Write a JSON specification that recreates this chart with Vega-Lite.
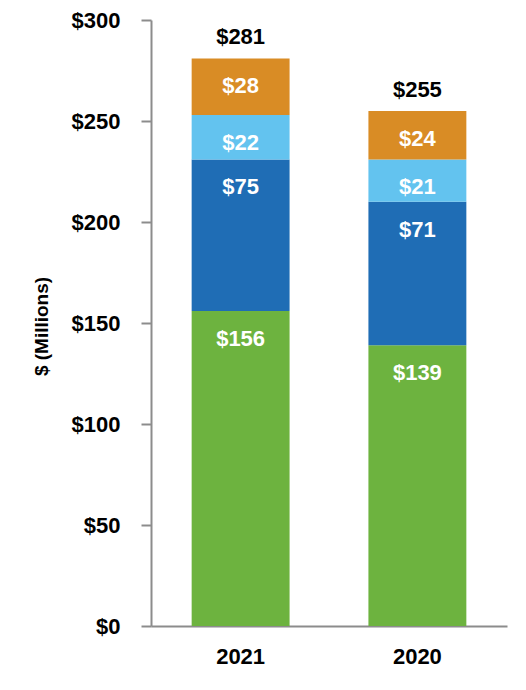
{
  "$schema": "https://vega.github.io/schema/vega-lite/v6.json",
  "width": 356,
  "height": 606,
  "autosize": "none",
  "padding": {"left": 151, "top": 20, "right": 19, "bottom": 64},
  "background": "white",
  "config": {
    "view": {"stroke": null},
    "font": "Liberation Sans, Arial, sans-serif"
  },
  "data": {
    "values": [
      {"year": "2021", "segment": "A", "order": 1, "value": 156},
      {"year": "2021", "segment": "B", "order": 2, "value": 75},
      {"year": "2021", "segment": "C", "order": 3, "value": 22},
      {"year": "2021", "segment": "D", "order": 4, "value": 28},
      {"year": "2020", "segment": "A", "order": 1, "value": 139},
      {"year": "2020", "segment": "B", "order": 2, "value": 71},
      {"year": "2020", "segment": "C", "order": 3, "value": 21},
      {"year": "2020", "segment": "D", "order": 4, "value": 24}
    ]
  },
  "encoding": {
    "x": {
      "field": "year",
      "type": "nominal",
      "sort": ["2021", "2020"],
      "scale": {"paddingInner": 0.446, "paddingOuter": 0.23},
      "axis": {
        "title": null,
        "labelAngle": 0,
        "labelFontSize": 22,
        "labelFontWeight": "bold",
        "labelColor": "black",
        "labelPadding": 20,
        "ticks": false,
        "domainColor": "#8c8c8c",
        "domainWidth": 2
      }
    }
  },
  "layer": [
    {
      "mark": {"type": "bar"},
      "encoding": {
        "y": {
          "field": "value",
          "type": "quantitative",
          "stack": "zero",
          "scale": {"domain": [0, 300], "nice": false},
          "axis": {
            "title": "$ (Millions)",
            "titleFontSize": 19,
            "titleFontWeight": "bold",
            "titleColor": "black",
            "titleX": -110,
            "titleY": 306,
            "titleAngle": -90,
            "titleBaseline": "middle",
            "titleAlign": "center",
            "values": [0, 50, 100, 150, 200, 250, 300],
            "format": "$.0f",
            "labelFontSize": 22,
            "labelFontWeight": "bold",
            "labelColor": "black",
            "labelPadding": 21,
            "tickSize": 10,
            "tickColor": "#8c8c8c",
            "tickWidth": 2,
            "domainColor": "#8c8c8c",
            "domainWidth": 2,
            "grid": false
          }
        },
        "color": {
          "field": "segment",
          "type": "nominal",
          "scale": {"domain": ["A", "B", "C", "D"], "range": ["#6db33f", "#1f6db5", "#63c3ef", "#d98c25"]},
          "legend": null
        },
        "order": {"field": "order", "type": "quantitative"}
      }
    },
    {
      "mark": {"type": "text", "color": "white", "fontWeight": "bold", "fontSize": 22, "baseline": "middle", "align": "center", "dy": 28},
      "encoding": {
        "y": {"field": "value", "type": "quantitative", "stack": "zero"},
        "detail": {"field": "segment"},
        "order": {"field": "order", "type": "quantitative"},
        "text": {"field": "value", "type": "quantitative", "format": "$.0f"}
      }
    },
    {
      "transform": [
        {"aggregate": [{"op": "sum", "field": "value", "as": "total"}], "groupby": ["year"]}
      ],
      "mark": {"type": "text", "color": "black", "fontWeight": "bold", "fontSize": 22, "baseline": "middle", "align": "center", "dy": -21},
      "encoding": {
        "y": {"field": "total", "type": "quantitative"},
        "text": {"field": "total", "type": "quantitative", "format": "$.0f"}
      }
    }
  ]
}
